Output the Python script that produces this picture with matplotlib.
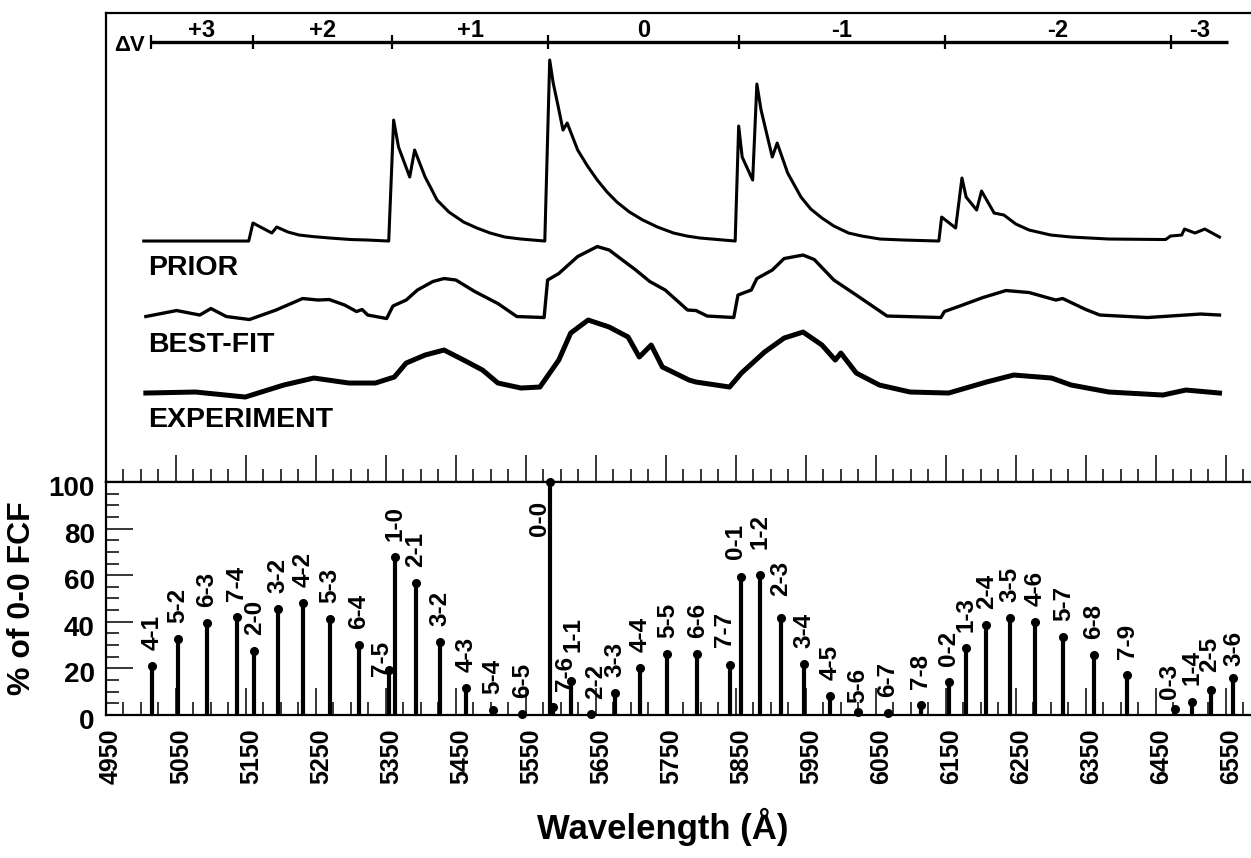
import numpy as np
import matplotlib.pyplot as plt
from matplotlib.transforms import ScaledTranslation

plt.rcParams['font.family'] = ['Liberation Sans', 'DejaVu Sans']
plt.rcParams['font.weight'] = 'bold'

# bands: label, wavelength (A), % of 0-0 FCF
band_labels = ['4-1', '5-2', '6-3', '7-4', '2-0', '3-2', '4-2', '5-3', '6-4', '7-5',
               '1-0', '2-1', '3-2', '4-3', '5-4', '6-5', '0-0', '7-6', '1-1', '2-2',
               '3-3', '4-4', '5-5', '6-6', '7-7', '0-1', '1-2', '2-3', '3-4', '4-5',
               '5-6', '6-7', '7-8', '0-2', '1-3', '2-4', '3-5', '4-6', '5-7', '6-8',
               '7-9', '0-3', '1-4', '2-5', '3-6']
band_wl = [5016, 5053, 5094, 5137, 5162, 5196, 5231, 5270, 5311, 5354,
           5363, 5393, 5427, 5464, 5503, 5545, 5585, 5589, 5614, 5643,
           5677, 5713, 5752, 5795, 5841, 5858, 5884, 5914, 5948, 5984,
           6024, 6067, 6114, 6154, 6179, 6208, 6241, 6278, 6318, 6361,
           6409, 6477, 6501, 6529, 6560]
band_fcf = [21, 32.5, 39.3, 41.9, 27.6, 45.4, 48.2, 41.2, 30, 19.3,
            67.7, 56.8, 31.3, 11.6, 2.1, 0.4, 100, 3.6, 14.7, 0.4,
            9.4, 20.2, 26.2, 26.2, 21.5, 59.2, 60.1, 41.5, 21.9, 8.2,
            1.4, 1.0, 4.3, 14.3, 28.6, 38.5, 41.8, 39.9, 33.6, 25.6,
            17.2, 2.7, 5.7, 10.7, 15.7]

# spectra: wavelength (A) and intensity above each trace's own baseline
prior_wl = [5004, 5154, 5160, 5187, 5194, 5210, 5226, 5245, 5270, 5300,
            5324, 5354, 5361, 5368, 5384, 5391, 5406, 5415, 5423, 5440,
            5461, 5480, 5499, 5520, 5543, 5577, 5584, 5589, 5596, 5603,
            5609, 5624, 5638, 5652, 5666, 5680, 5698, 5717, 5738, 5761,
            5780, 5799, 5849, 5854, 5859, 5874, 5880, 5886, 5902, 5909,
            5924, 5943, 5957, 5973, 5990, 6011, 6030, 6056, 6090, 6140,
            6144, 6164, 6173, 6179, 6194, 6201, 6219, 6233, 6250, 6269,
            6300, 6329, 6383, 6464, 6471, 6487, 6491, 6506, 6520, 6541]
prior_int = [0, 0, 18, 8, 14, 9, 6, 4.5, 3, 1.5,
             1, 0, 121, 94, 64, 91, 64, 52, 41, 29,
             19, 13, 8, 4, 2, 0, 181, 158, 135, 111,
             118, 91, 75, 61, 49, 39, 29, 21, 14, 8,
             5, 3, 0, 115, 84, 61, 157, 131, 84, 98,
             68, 44, 32, 23, 15, 8, 5, 2, 1, 0,
             24, 13, 63, 44, 31, 50, 28, 26, 17, 11,
             6, 4, 2, 1.5, 5, 6, 12, 8, 12, 4]

fit_wl = [5007, 5051, 5084, 5100, 5122, 5155, 5193, 5231, 5253, 5269,
          5291, 5308, 5316, 5324, 5351, 5360, 5379, 5395, 5417, 5433,
          5450, 5477, 5510, 5537, 5576, 5581, 5597, 5624, 5652, 5669,
          5707, 5727, 5749, 5781, 5793, 5809, 5847, 5853, 5872, 5880,
          5902, 5919, 5946, 5962, 5990, 6022, 6066, 6143, 6148, 6170,
          6203, 6236, 6269, 6307, 6317, 6350, 6370, 6438, 6514, 6541]
fit_int = [1, 7, 2.5, 9, 1, -2, 7.5, 19, 17.5, 18,
           12.5, 6, 8, 2.5, -1, 11.5, 17.5, 27.5, 36, 39,
           37.5, 26, 14, 1, 0, 37.5, 44, 61, 71, 67.5,
           47.5, 36, 27.5, 7.5, 7, 1.5, 0, 22.5, 27.5, 39,
           47.5, 59, 62.5, 58, 37.5, 22.5, 1.5, 0, 6, 11.5,
           20, 27, 25, 17.5, 19, 8, 2.5, 0, 3.5, 2.5]

exp_wl = [5007, 5078, 5149, 5204, 5247, 5297, 5335, 5362, 5379, 5406,
          5433, 5461, 5488, 5510, 5543, 5570, 5597, 5614, 5639, 5669,
          5696, 5712, 5729, 5745, 5754, 5783, 5793, 5841, 5858, 5891,
          5919, 5946, 5973, 5992, 6000, 6022, 6055, 6099, 6154, 6208,
          6247, 6301, 6329, 6383, 6460, 6493, 6541]
exp_int = [0, 1, -4, 8, 15, 10, 10, 16, 30, 38,
           43, 33, 23, 10, 5, 6, 33, 60, 73, 66,
           56, 36, 48, 26, 23, 13, 11, 6, 20, 41,
           55, 61, 48, 33, 40, 20, 8, 1, 0, 11,
           18, 15, 8, 1, -2, 3, 0]

trace_names = ['PRIOR', 'BEST-FIT', 'EXPERIMENT']
trace_base = [241, 164.5, 89]

# delta-v sequences along the top
dv_edges = [5014, 5160, 5359, 5582, 5854, 6149, 6471, 6553]
dv_names = ['+3', '+2', '+1', '0', '-1', '-2', '-3']

# label nudges (points): dx, dy above marker
label_shift = {'0-0': (-8, -39), '7-5': (-5, -4), '7-6': (9, 11), '1-1': (2, 21),
               '1-2': (0, 19), '2-3': (0, 16), '2-2': (3, 11), '0-1': (-4, 13),
               '7-7': (-4, 13), '5-6': (0, 6), '0-3': (-4, 7), '1-4': (0, 12),
               '2-5': (-1, 13), '3-6': (1, 9)}

fig = plt.figure(figsize=(12.51, 8.58), dpi=100)
ax_top = fig.add_axes([0.0847, 0.4382, 0.9153, 0.5466])
ax_bot = fig.add_axes([0.0847, 0.1667, 0.9153, 0.2716], sharex=ax_top)

xmin, xmax = 4950, 6586

# ---- top panel
traces = [(prior_wl, prior_int, 2.2), (fit_wl, fit_int, 2.4), (exp_wl, exp_int, 3.6)]
for (wl, inten, lw), base, name in zip(traces, trace_base, trace_names):
    ax_top.plot(wl, np.array(inten) + base, color='k', lw=lw, solid_joinstyle='round')
    ax_top.text(5010, base - 27, name, fontsize=20.5, fontweight='bold', va='center')

ax_top.hlines(440, dv_edges[0], dv_edges[-1], color='k', lw=2.4)
for e in dv_edges[:-1]:
    ax_top.vlines(e, 433, 447, color='k', lw=1.6)
for i, name in enumerate(dv_names):
    ax_top.text((dv_edges[i] + dv_edges[i + 1]) / 2, 440.5, name, fontsize=17,
                fontweight='bold', ha='center', va='bottom')
ax_top.text(5006, 437, 'ΔV', fontsize=16, fontweight='bold', ha='right', va='center')

ax_top.set_ylim(0, 469)
ax_top.set_xlim(xmin, xmax)
ax_top.set_yticks([])
ax_top.spines['right'].set_visible(False)
for s in ['top', 'left', 'bottom']:
    ax_top.spines[s].set_linewidth(1.6)
ax_top.tick_params(axis='x', which='both', direction='in', labelbottom=False, width=1.1)
ax_top.tick_params(axis='x', which='major', length=19.5)
ax_top.tick_params(axis='x', which='minor', length=9.5)

# ---- bottom panel
ax_bot.vlines(band_wl, 0, band_fcf, color='k', lw=3)
ax_bot.plot(band_wl, band_fcf, 'o', color='k', ms=5.5, clip_on=False, zorder=5)
for lab, wl, v in zip(band_labels, band_wl, band_fcf):
    dx, dy = label_shift.get(lab, (0, 11.5))
    ax_bot.annotate(lab, (wl, v), xytext=(dx, dy), textcoords='offset points',
                    rotation=90, ha='center', va='bottom', fontsize=17.5,
                    fontweight='bold', annotation_clip=False)

ax_bot.set_ylim(0, 100)
ax_bot.set_xticks(np.arange(4950, 6551, 100))
ax_bot.set_xticks(np.arange(4950, 6586, 25), minor=True)
ax_bot.set_yticks(np.arange(0, 101, 20))
ax_bot.set_yticks(np.arange(0, 101, 5), minor=True)
ax_bot.spines['right'].set_visible(False)
for s in ['top', 'left', 'bottom']:
    ax_bot.spines[s].set_linewidth(1.6)
ax_bot.tick_params(axis='both', which='both', direction='in', width=1.1)
ax_bot.tick_params(axis='both', which='major', length=19.5)
ax_bot.tick_params(axis='both', which='minor', length=9.5)
ax_bot.tick_params(axis='x', which='major', labelsize=18, labelrotation=90, pad=10)
ax_bot.tick_params(axis='y', which='major', labelsize=20, pad=8)
xshift = ScaledTranslation(0.05, 0, fig.dpi_scale_trans)
yshift = ScaledTranslation(0, -0.04, fig.dpi_scale_trans)
for t in ax_bot.get_xticklabels():
    t.set_fontweight('bold')
    t.set_transform(t.get_transform() + xshift)
for t in ax_bot.get_yticklabels():
    t.set_fontweight('bold')
    t.set_transform(t.get_transform() + yshift)

ax_bot.set_ylabel('% of 0-0 FCF', fontsize=23, fontweight='bold', labelpad=8)
ax_bot.set_xlabel('Wavelength (Å)', fontsize=25, fontweight='bold')
ax_bot.xaxis.set_label_coords(0.486, -0.40)

fig.savefig('out.png', dpi=100)
